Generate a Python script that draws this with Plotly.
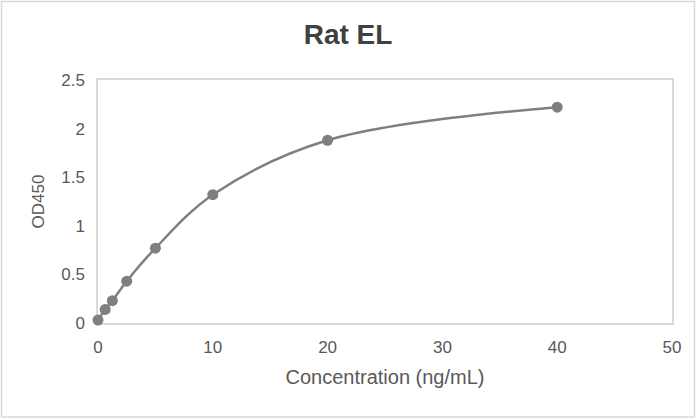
import plotly.graph_objects as go

concentration = [0, 0.625, 1.25, 2.5, 5, 10, 20, 40]
od450 = [0.03, 0.14, 0.23, 0.43, 0.77, 1.32, 1.88, 2.22]

W, H = 696, 419
ML, MR, MT, MB = 98, 24, 80, 96
pw, ph = W - ML - MR, H - MT - MB
FONT = "Liberation Sans, Arial, sans-serif"

fig = go.Figure()
fig.add_trace(go.Scatter(
    x=concentration, y=od450, mode="lines+markers",
    line=dict(color="#7f7f7f", width=2.5, shape="spline", smoothing=1.0),
    marker=dict(color="#7f7f7f", size=11),
    showlegend=False, cliponaxis=False,
))

tick_font = dict(family=FONT, size=17, color="#595959")
fig.update_layout(
    width=W, height=H,
    margin=dict(l=ML, r=MR, t=MT, b=MB),
    paper_bgcolor="white", plot_bgcolor="white",
    title=dict(text="<b>Rat EL</b>", x=348 / W, xanchor="center", y=1 - 34 / H, yanchor="middle",
               font=dict(family=FONT, size=28, color="#404040")),
    xaxis=dict(range=[0, 50], dtick=10, showgrid=False, zeroline=False,
               showline=True, linecolor="#d9d9d9", linewidth=1.5, mirror=True,
               ticks="", tickfont=tick_font, layer="below traces", ticklabelstandoff=8,
               title=dict(text="Concentration (ng/mL)", font=dict(family=FONT, size=20, color="#595959"), standoff=14)),
    yaxis=dict(range=[0, 2.5], dtick=0.5, showgrid=False, zeroline=False,
               showline=True, linecolor="#d9d9d9", linewidth=1.5, mirror=True,
               ticks="", tickfont=tick_font, layer="below traces", ticklabelstandoff=8,
               title=dict(text="OD450", font=dict(family=FONT, size=17, color="#595959"), standoff=12)),
    shapes=[dict(type="rect", xref="paper", yref="paper",
                 x0=(1.5 - ML) / pw, x1=(W - 1.5 - ML) / pw,
                 y0=-(H - 2 - MT - ph) / ph, y1=(ph + MT - 1.5) / ph,
                 line=dict(color="#d9d9d9", width=1.5), layer="below")],
)

fig.write_html("out.html", config={"displayModeBar": False},
               post_script="document.body.style.margin='0';")
